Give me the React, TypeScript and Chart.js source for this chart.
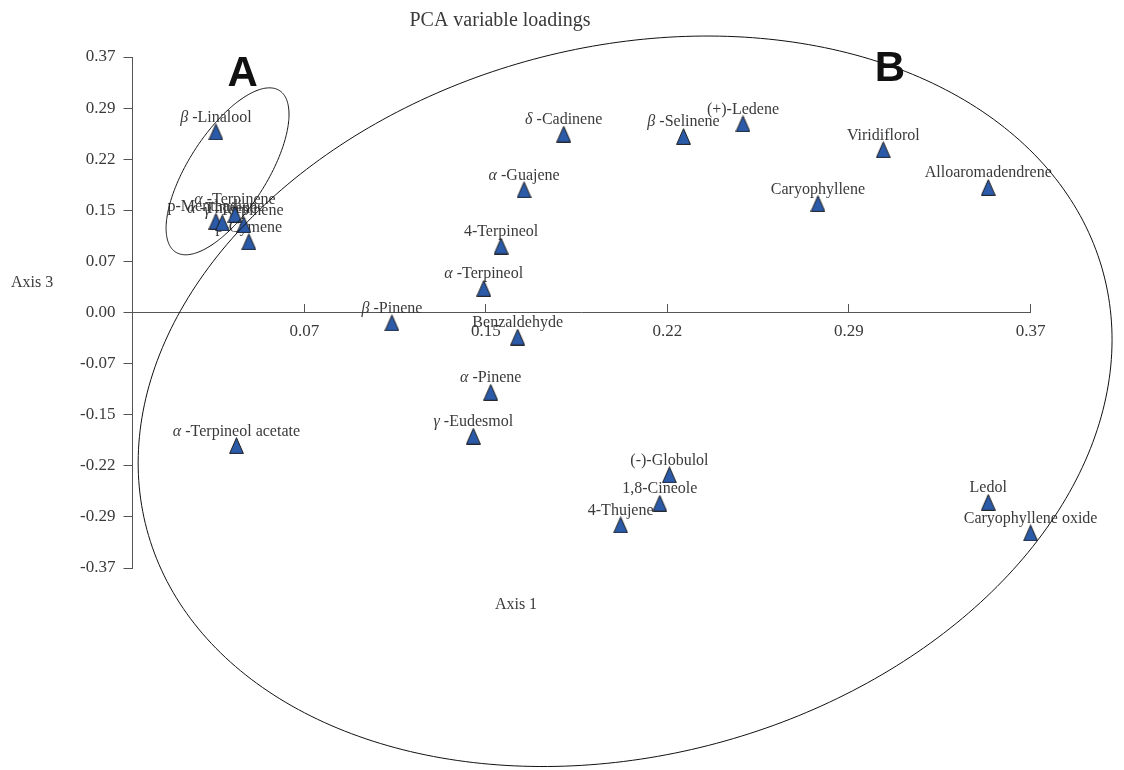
import React, { useEffect, useRef } from "react";
import { Chart, registerables } from "chart.js";

Chart.register(...registerables);

// ---- Data ----
const compoundNames = [
  "β-Linalool",
  "p-Menthadiene",
  "α-Thujene",
  "α-Terpinene",
  "γ-Terpinene",
  "p-Cymene",
  "δ-Cadinene",
  "β-Selinene",
  "(+)-Ledene",
  "Viridiflorol",
  "Alloaromadendrene",
  "Caryophyllene",
  "α-Guajene",
  "4-Terpineol",
  "α-Terpineol",
  "β-Pinene",
  "Benzaldehyde",
  "α-Pinene",
  "γ-Eudesmol",
  "α-Terpineol acetate",
  "(-)-Globulol",
  "1,8-Cineole",
  "4-Thujene",
  "Ledol",
  "Caryophyllene oxide",
];

const axis1Loadings = [
  0.0376, 0.0376, 0.0402, 0.0453, 0.0489, 0.0509, 0.1781, 0.2265, 0.2505,
  0.3072, 0.3496, 0.2808, 0.1621, 0.1528, 0.1458, 0.1087, 0.1595, 0.1486,
  0.1416, 0.0459, 0.2208, 0.2169, 0.2011, 0.3496, 0.3667,
];

const axis3Loadings = [
  0.2593, 0.1309, 0.1287, 0.1409, 0.126, 0.1016, 0.256, 0.2526, 0.2709,
  0.2336, 0.1794, 0.1564, 0.1761, 0.0954, 0.0347, -0.0149, -0.0352, -0.1145,
  -0.1775, -0.191, -0.233, -0.2737, -0.3048, -0.2724, -0.3163,
];

const xTickValues = [0.073333, 0.146667, 0.22, 0.293333, 0.366667];
const xTickLabels = ["0.07", "0.15", "0.22", "0.29", "0.37"];
const yTickValues = [
  -0.366667, -0.293333, -0.22, -0.146667, -0.073333, 0, 0.073333, 0.146667,
  0.22, 0.293333, 0.366667,
];
const yTickLabels = [
  "-0.37", "-0.29", "-0.22", "-0.15", "-0.07", "0.00", "0.07", "0.15", "0.22",
  "0.29", "0.37",
];

// Group ellipses, in data units: centre and two conjugate half-axis vectors
const groupNames = ["A", "B"];
const groupCenterX = [0.0423, 0.2029];
const groupCenterY = [0.2026, -0.1274];
const groupAxisUX = [0.02097, 0.1932];
const groupAxisUY = [0.1159, 0.184];
const groupAxisVX = [0.01329, 0.037];
const groupAxisVY = [-0.03028, -0.4908];
const groupLetterX = [0.0484, 0.3099];
const groupLetterY = [0.3246, 0.3317];

const chartTitle = "PCA variable loadings";
const xAxisTitle = "Axis 1";
const yAxisTitle = "Axis 3";

const SERIF = '"Liberation Serif", "Times New Roman", serif';
const TEXT = "#3a3a3a";
const AXIS = "#555555";

function makeTriangle(): HTMLCanvasElement {
  const c = document.createElement("canvas");
  c.width = 15;
  c.height = 17;
  const g = c.getContext("2d")!;
  g.beginPath();
  g.moveTo(7.5, 0.7);
  g.lineTo(14.4, 16.4);
  g.lineTo(0.6, 16.4);
  g.closePath();
  g.fillStyle = "#2b5aa8";
  g.fill();
  g.strokeStyle = "#1a1a1a";
  g.lineWidth = 1;
  g.stroke();
  return c;
}

function drawLabel(ctx: CanvasRenderingContext2D, name: string, x: number, y: number) {
  const m = /^([α-ωΑ-Ω])(.*)$/.exec(name);
  ctx.textAlign = "left";
  if (m) {
    ctx.font = `italic 16px ${SERIF}`;
    const w1 = ctx.measureText(m[1]).width;
    ctx.font = `16px ${SERIF}`;
    const w2 = ctx.measureText(m[2]).width;
    const gap = 4;
    const start = x - (w1 + gap + w2) / 2;
    ctx.font = `italic 16px ${SERIF}`;
    ctx.fillText(m[1], start, y);
    ctx.font = `16px ${SERIF}`;
    ctx.fillText(m[2], start + w1 + gap, y);
  } else {
    ctx.font = `16px ${SERIF}`;
    const w = ctx.measureText(name).width;
    ctx.fillText(name, x - w / 2, y);
  }
}

const decorPlugin = {
  id: "pcaDecor",
  beforeDatasetsDraw(chart: any) {
    const ctx = chart.ctx as CanvasRenderingContext2D;
    const meta = chart.getDatasetMeta(0);
    ctx.save();
    ctx.fillStyle = TEXT;
    ctx.textBaseline = "alphabetic";
    meta.data.forEach((pt: any, i: number) => {
      drawLabel(ctx, compoundNames[i], pt.x, pt.y - 10);
    });
    ctx.restore();
  },
  afterDatasetsDraw(chart: any) {
    const ctx = chart.ctx as CanvasRenderingContext2D;
    const xs = chart.scales.x;
    const ys = chart.scales.y;
    ctx.save();
    ctx.strokeStyle = "#111111";
    ctx.lineWidth = 1;
    for (let g = 0; g < groupNames.length; g++) {
      ctx.beginPath();
      const steps = 360;
      for (let s = 0; s <= steps; s++) {
        const t = (s / steps) * Math.PI * 2;
        const dx = groupCenterX[g] + groupAxisUX[g] * Math.cos(t) + groupAxisVX[g] * Math.sin(t);
        const dy = groupCenterY[g] + groupAxisUY[g] * Math.cos(t) + groupAxisVY[g] * Math.sin(t);
        const px = xs.getPixelForValue(dx);
        const py = ys.getPixelForValue(dy);
        if (s === 0) ctx.moveTo(px, py);
        else ctx.lineTo(px, py);
      }
      ctx.stroke();
    }
    ctx.fillStyle = "#111111";
    ctx.font = 'bold 42px "Liberation Sans", Arial, sans-serif';
    ctx.textAlign = "center";
    ctx.textBaseline = "alphabetic";
    for (let g = 0; g < groupNames.length; g++) {
      ctx.fillText(groupNames[g], xs.getPixelForValue(groupLetterX[g]), ys.getPixelForValue(groupLetterY[g]));
    }
    ctx.restore();
  },
  afterDraw(chart: any) {
    const ctx = chart.ctx as CanvasRenderingContext2D;
    ctx.save();
    ctx.fillStyle = TEXT;
    ctx.textBaseline = "alphabetic";
    ctx.font = `20px ${SERIF}`;
    ctx.textAlign = "center";
    ctx.fillText(chartTitle, 500, 26);
    ctx.font = `16px ${SERIF}`;
    ctx.fillText(xAxisTitle, 516, 609);
    ctx.textAlign = "left";
    ctx.fillText(yAxisTitle, 11, 287);
    ctx.restore();
  },
};

export default function App() {
  const ref = useRef<HTMLCanvasElement | null>(null);

  useEffect(() => {
    if (!ref.current) return;
    const tri = makeTriangle();
    const points = axis1Loadings.map((x, i) => ({ x, y: axis3Loadings[i] }));
    const tickFont = { family: SERIF, size: 17 };
    const chart = new Chart(ref.current, {
      type: "scatter",
      data: {
        datasets: [
          {
            label: "loadings",
            data: points,
            pointStyle: tri as any,
            pointRadius: 8,
            clip: false as any,
          },
        ],
      },
      options: {
        animation: false,
        responsive: false,
        events: [],
        layout: { padding: { left: 0, right: 93.5, top: 57, bottom: 202 } },
        plugins: {
          legend: { display: false },
          title: { display: false },
          tooltip: { enabled: false },
        },
        scales: {
          x: {
            type: "linear",
            position: { y: 0 } as any,
            min: 0.0039,
            max: 0.366667,
            afterBuildTicks: (s: any) => {
              s.ticks = xTickValues.map((v) => ({ value: v }));
            },
            afterFit: (s: any) => {
              s.height = 0;
            },
            grid: {
              drawOnChartArea: false,
              drawTicks: true,
              tickLength: -9,
              color: AXIS,
            },
            border: { display: true, color: AXIS, width: 1 },
            ticks: {
              autoSkip: false,
              maxRotation: 0,
              padding: 18,
              color: TEXT,
              font: tickFont,
              callback: (_v: any, i: number) => xTickLabels[i],
            },
          },
          y: {
            type: "linear",
            position: "left",
            min: -0.366667,
            max: 0.366667,
            afterBuildTicks: (s: any) => {
              s.ticks = yTickValues.map((v) => ({ value: v }));
            },
            afterFit: (s: any) => {
              s.width = 132.5;
            },
            grid: {
              drawOnChartArea: false,
              drawTicks: true,
              tickLength: 9,
              color: AXIS,
            },
            border: { display: true, color: AXIS, width: 1 },
            ticks: {
              autoSkip: false,
              padding: 8,
              color: TEXT,
              font: tickFont,
              callback: (_v: any, i: number) => yTickLabels[i],
            },
          },
        },
      },
      plugins: [decorPlugin],
    });
    return () => chart.destroy();
  }, []);

  return (
    <div style={{ position: "absolute", left: 0, top: 0, width: 1124, height: 770, background: "#ffffff" }}>
      <canvas ref={ref} width={1124} height={770} style={{ display: "block" }} />
    </div>
  );
}
